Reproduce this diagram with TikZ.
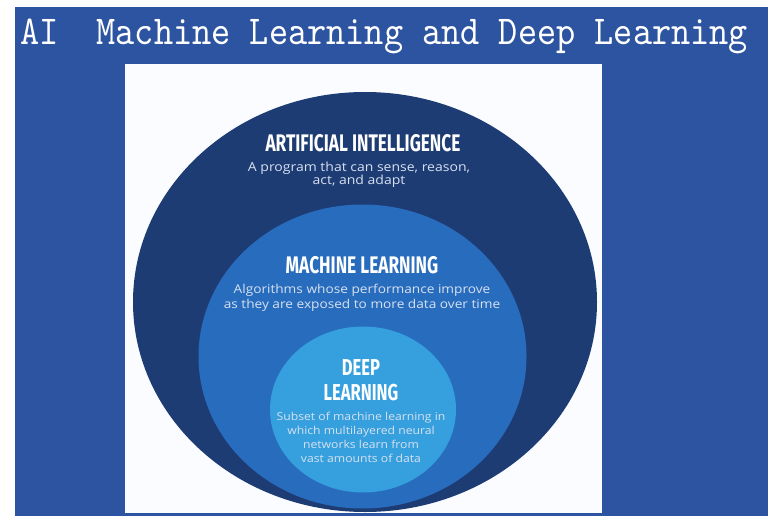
\documentclass[tikz,border=0pt]{standalone}
\usepackage{fontspec}
\newfontfamily\titlefont[Extension=.otf, FakeStretch=0.89]{lmmono10-regular}
\newfontfamily\headfont[FakeStretch=0.72]{Fira Sans}
\newfontfamily\bodyfont[FakeStretch=1.12]{Open Sans}

\definecolor{bgblue}{RGB}{45,84,160}
\definecolor{panelwhite}{RGB}{250,252,255}
\definecolor{aiblue}{RGB}{30,60,116}
\definecolor{mlblue}{RGB}{40,108,190}
\definecolor{dlblue}{RGB}{54,160,222}
\definecolor{bodygrey}{RGB}{215,225,240}

\begin{document}
\begin{tikzpicture}[x=1pt, y=-1pt,
	head/.style={text=white, inner sep=0pt},
	body/.style={text=bodygrey, align=center, inner sep=0pt}]
	\useasboundingbox (0,0) rectangle (768,516);
	% Background
	\fill[white] (0,0) rectangle (768,516);
	\fill[bgblue] (15,7) rectangle (768,516);
	\fill[panelwhite] (125,64) rectangle (602,513);
	
	% Circles
	\fill[aiblue] (365,302) ellipse [x radius=232pt, y radius=210pt];
	\fill[mlblue] (362.5,356.5) ellipse [x radius=164pt, y radius=152pt];
	\fill[dlblue] (363,409.5) ellipse [x radius=93pt, y radius=83pt];
	
	% Title
	\node[text=white, inner sep=0pt, anchor=base, font=\titlefont\fontsize{41}{41}\selectfont] (title) at (384,45) {AI\ \ Machine Learning and Deep Learning};
	
	% Nodes
	\node[head, anchor=base, font=\headfont\bfseries\fontsize{24}{24}\selectfont] (ai) at (363,151) {ARTIFICIAL INTELLIGENCE};
	\node[body, font=\bodyfont\fontsize{12.5}{13}\selectfont] (aitext) at (359,175) {A program that can sense, reason,\\act, and adapt};
	\node[head, anchor=base, font=\headfont\bfseries\fontsize{24}{24}\selectfont] (ml) at (362,273) {MACHINE LEARNING};
	\node[body, font=\bodyfont\fontsize{12.2}{15}\selectfont] (mltext) at (362,298) {Algorithms whose performance improve\\as they are exposed to more data over time};
	\node[head, anchor=base, font=\headfont\bfseries\fontsize{23}{23}\selectfont] (deep) at (361,375) {DEEP};
	\node[head, anchor=base, font=\headfont\bfseries\fontsize{23}{23}\selectfont] (dl) at (361,400) {LEARNING};
	\node[body, font=\bodyfont\fontsize{10.9}{14}\selectfont] (dltext) at (361,437) {Subset of machine learning in\\which multilayered neural\\networks learn from\\vast amounts of data};
\end{tikzpicture}
\end{document}
